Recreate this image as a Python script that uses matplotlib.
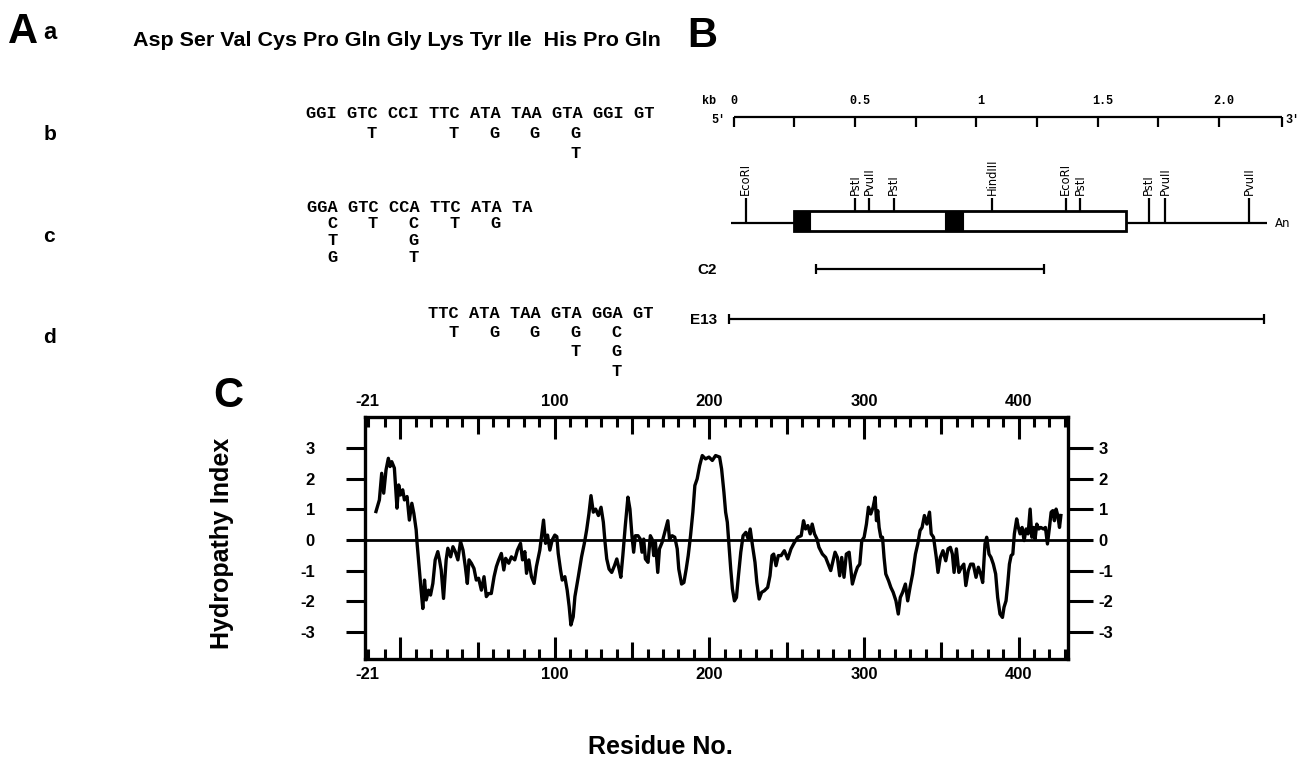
import matplotlib
matplotlib.use("Agg")
import matplotlib.pyplot as plt
from matplotlib import font_manager as fm
from matplotlib.patches import Rectangle

_installed = {f.name for f in fm.fontManager.ttflist}
SANS = "Liberation Sans"
NARROW = "Liberation Sans Narrow" if "Liberation Sans Narrow" in _installed else "Liberation Sans"
IS_NARROW = NARROW.endswith("Narrow")
MONO = "Liberation Mono"

# ---------------- data ----------------
peptide = ["Asp", "Ser", "Val", "Cys", "Pro", "Gln", "Gly", "Lys", "Tyr", "Ile", "His", "Pro", "Gln"]

probe_b = "GGI GTC CCI TTC ATA TAA GTA GGI GT"
probe_b_alt = [(6, 1, "T"), (14, 1, "T"), (18, 1, "G"), (22, 1, "G"), (26, 1, "G"), (26, 2, "T")]
probe_c = "GGA GTC CCA TTC ATA TA"
probe_c_alt = [(2, 1, "C"), (2, 2, "T"), (2, 3, "G"), (6, 1, "T"), (10, 1, "C"), (10, 2, "G"),
               (10, 3, "T"), (14, 1, "T"), (18, 1, "G")]
probe_d = "TTC ATA TAA GTA GGA GT"
probe_d_alt = [(2, 1, "T"), (6, 1, "G"), (10, 1, "G"), (14, 1, "G"), (14, 2, "T"), (18, 1, "C"),
               (18, 2, "G"), (18, 3, "T")]

kb_ticks = [0, 0.25, 0.5, 0.75, 1.0, 1.25, 1.5, 1.75, 2.0, 2.262]
kb_label_pos = [0, 0.5, 1.0, 1.5, 2.0]
kb_labels = ["0", "0.5", "1", "1.5", "2.0"]
map_span = (-0.013, 2.197)
cds_span = (0.248, 1.617)
dark_blocks = [(0.248, 0.316), (0.871, 0.944)]
site_names = ["EcoRI", "PstI", "PvuII", "PstI", "HindIII", "EcoRI", "PstI", "PstI", "PvuII", "PvuII"]
site_kb = [0.050, 0.500, 0.558, 0.659, 1.066, 1.368, 1.428, 1.710, 1.778, 2.124]
clone_names = ["C2", "E13"]
clone_start = [0.339, -0.020]
clone_end = [1.278, 2.187]

residue = [-15.7, -13.5, -12.0, -10.7, -9.2, -7.7, -6.6, -5.5, -3.8, -2.1, -1.0, 0.1, 1.6, 2.7, 4.4,
           5.9, 7.5, 8.8, 10.3, 10.9, 12.0, 13.5, 14.6, 15.7, 16.8, 18.3, 19.6, 21.1, 22.6, 24.3,
           25.4, 26.5, 28.0, 29.7, 30.8, 32.6, 34.1, 35.6, 37.3, 39.0, 40.6, 42.1, 43.4, 44.5, 46.0,
           47.7, 49.2, 50.7, 52.5, 54.2, 55.7, 57.2, 58.9, 60.7, 62.2, 63.7, 65.4, 67.0, 68.2, 70.2,
           71.9, 74.1, 75.8, 77.8, 79.1, 80.6, 81.7, 83.2, 84.9, 86.6, 88.1, 90.3, 91.4, 92.7, 94.0,
           95.3, 96.8, 98.3, 100.0, 101.3, 102.2, 103.7, 104.8, 106.5, 108.0, 109.3, 110.4, 111.9,
           113.0, 115.2, 117.3, 119.1, 120.6, 122.1, 123.4, 124.9, 126.4, 128.2, 129.9, 131.4, 132.5,
           133.6, 135.1, 136.8, 138.6, 140.1, 141.6, 142.7, 144.0, 145.6, 147.3, 148.6, 149.9, 151.0,
           152.1, 153.8, 155.3, 156.4, 157.5, 158.6, 160.3, 161.8, 162.9, 164.0, 165.1, 166.6, 167.7,
           169.4, 171.1, 173.1, 174.2, 175.9, 177.6, 179.2, 180.2, 182.0, 183.5, 185.0, 186.3, 187.8,
           189.3, 190.6, 192.1, 193.7, 195.4, 197.5, 199.7, 201.9, 204.0, 206.6, 207.9, 209.4, 210.5,
           211.6, 212.7, 213.8, 214.9, 216.2, 217.5, 218.8, 220.3, 221.8, 223.6, 225.1, 226.4, 227.9,
           229.5, 230.7, 232.2, 233.8, 235.5, 237.7, 239.2, 240.5, 241.6, 243.1, 244.6, 246.4, 248.5,
           250.7, 252.8, 255.0, 257.2, 259.4, 260.9, 262.2, 263.7, 265.2, 266.5, 268.0, 269.6, 270.9,
           273.1, 275.2, 276.9, 278.5, 280.0, 281.3, 282.8, 284.3, 285.6, 287.1, 288.6, 290.4, 291.4,
           292.5, 294.3, 295.8, 297.3, 298.6, 300.1, 301.6, 302.9, 304.4, 305.9, 307.2, 308.1, 308.9,
           309.8, 310.9, 312.0, 313.0, 314.1, 315.9, 317.4, 318.9, 320.7, 322.2, 323.5, 325.0, 326.8,
           328.3, 329.8, 331.5, 333.3, 334.8, 336.3, 337.6, 339.1, 340.7, 342.4, 343.5, 345.0, 346.8,
           347.9, 349.4, 351.1, 352.9, 354.4, 355.9, 357.2, 358.3, 359.8, 361.4, 363.1, 364.6, 365.9,
           367.5, 369.0, 370.7, 372.5, 374.0, 375.5, 376.8, 378.3, 379.4, 380.9, 382.2, 383.7, 385.2,
           386.5, 388.0, 389.6, 390.6, 391.9, 393.0, 394.1, 395.2, 396.3, 397.3, 398.8, 399.9, 401.0,
           402.3, 403.6, 404.9, 406.2, 407.5, 408.6, 409.7, 410.7, 411.8, 413.1, 414.4, 416.1, 417.4,
           418.7, 420.0, 421.1, 422.2, 423.2, 424.3, 425.4, 426.5, 427.4]
hydropathy = [0.93, 1.31, 2.18, 1.53, 2.29, 2.67, 2.40, 2.56, 2.35, 1.04, 1.80, 1.47, 1.64, 1.31, 1.42,
              0.65, 1.20, 0.87, 0.33, -0.11, -0.76, -1.64, -2.24, -1.31, -1.96, -1.64, -1.80, -1.42,
              -0.65, -0.38, -0.65, -0.98, -1.91, -0.65, -0.27, -0.55, -0.22, -0.38, -0.65, -0.05,
              -0.33, -0.87, -1.42, -0.65, -0.76, -0.93, -1.31, -1.25, -1.64, -1.20, -1.85, -1.75,
              -1.75, -1.20, -0.87, -0.65, -0.44, -0.98, -0.60, -0.76, -0.55, -0.65, -0.33, -0.11,
              -0.65, -0.38, -1.09, -0.65, -1.20, -1.42, -0.87, -0.33, 0.11, 0.65, -0.11, 0.16, -0.33,
              0.00, 0.16, 0.11, -0.44, -0.98, -1.31, -1.20, -1.64, -2.18, -2.78, -2.51, -1.85, -1.20,
              -0.55, -0.11, 0.33, 0.87, 1.45, 0.91, 1.01, 0.80, 1.07, 0.58, -0.08, -0.62, -0.95, -1.06,
              -0.84, -0.62, -0.95, -1.22, -0.51, 0.47, 1.40, 1.01, 0.14, -0.40, 0.14, 0.14, 0.03,
              -0.40, 0.03, -0.62, -0.73, 0.14, 0.03, -0.51, -0.08, -1.06, -0.29, -0.08, 0.25, 0.63,
              0.03, 0.14, 0.09, -0.29, -0.95, -1.44, -1.39, -0.95, -0.51, 0.14, 0.91, 1.78, 2.00, 2.43,
              2.76, 2.65, 2.71, 2.60, 2.76, 2.71, 2.32, 1.56, 0.91, 0.58, -0.19, -0.95, -1.60, -1.99,
              -1.88, -1.17, -0.40, 0.14, 0.25, 0.03, 0.36, -0.19, -0.73, -1.39, -1.93, -1.71, -1.66,
              -1.55, -1.17, -0.51, -0.46, -0.84, -0.51, -0.51, -0.35, -0.62, -0.29, -0.08, 0.09, 0.14,
              0.63, 0.36, 0.47, 0.20, 0.52, 0.20, 0.03, -0.24, -0.46, -0.57, -0.79, -1.00, -0.68,
              -0.40, -0.57, -1.17, -0.57, -1.22, -0.46, -0.40, -0.89, -1.44, -1.11, -0.89, -0.79,
              -0.02, 0.09, 0.52, 1.07, 0.85, 1.07, 1.40, 0.63, 0.96, 0.41, 0.09, 0.09, -0.57, -1.11,
              -1.33, -1.55, -1.71, -1.99, -2.42, -1.88, -1.71, -1.44, -1.99, -1.55, -1.11, -0.46,
              -0.13, 0.31, 0.41, 0.80, 0.52, 0.91, 0.20, 0.09, -0.57, -1.06, -0.57, -0.35, -0.68,
              -0.29, -0.24, -0.46, -1.06, -0.29, -1.06, -0.89, -0.79, -1.49, -1.00, -0.79, -0.79,
              -1.22, -0.89, -1.11, -1.39, -0.13, 0.09, -0.46, -0.57, -0.79, -1.11, -1.88, -2.42,
              -2.53, -2.20, -1.99, -1.44, -0.79, -0.51, -0.46, 0.20, 0.69, 0.41, 0.20, 0.41, -0.02,
              0.36, 0.20, 1.01, 0.09, 0.41, 0.03, 0.52, 0.36, 0.41, 0.36, 0.41, -0.13, 0.41, 0.91,
              0.96, 0.63, 1.01, 0.80, 0.41, 0.80]

x_major = [-21, 100, 200, 300, 400]
x_major_labels = ["-21", "100", "200", "300", "400"]
y_ticks = [3, 2, 1, 0, -1, -2, -3]
y_tick_labels = ["3", "2", "1", "0", "-1", "-2", "-3"]

# ---------------- figure ----------------
W, H = 1300, 759
plt.rcParams["font.family"] = [NARROW, "DejaVu Sans"]
plt.rcParams["font.weight"] = "bold"
fig = plt.figure(figsize=(W / 100, H / 100), dpi=100)
fig.patch.set_facecolor("white")

ov = fig.add_axes([0, 0, 1, 1])
ov.set_xlim(0, W)
ov.set_ylim(H, 0)
ov.axis("off")


def txt(x, y, s, size, family=SANS, weight="bold", **kw):
    kw.setdefault("va", "baseline")
    return ov.text(x, y, s, fontsize=size, family=[family, "DejaVu Sans"], fontweight=weight, **kw)


# panel letters
txt(8, 43, "A", 30)
txt(687, 47, "B", 30)
txt(213, 407, "C", 30)

# panel A
txt(50, 39, "a", 17, ha="center")
txt(50, 140, "b", 15, ha="center")
txt(49, 242, "c", 15, ha="center")
txt(49, 343, "d", 15, ha="center")

pep_text = " ".join(peptide[:10]) + "  " + " ".join(peptide[10:])
pep = txt(133, 46, pep_text, 18 if IS_NARROW else 15, family=NARROW, ha="left")
fig.canvas.draw()
_w = pep.get_window_extent(fig.canvas.get_renderer()).width
pep.set_fontsize(pep.get_fontsize() * 527.0 / _w)

PITCH = 10.17
MONO_FS = PITCH / 0.6 * 72 / 100


def probe(x0, base, seq, alts, step):
    txt(x0, base, seq, MONO_FS, family=MONO, ha="left")
    for idx, row, ch in alts:
        txt(x0 + (idx + 0.5) * PITCH, base + row * step, ch, MONO_FS, family=MONO, ha="center")


probe(306, 118.5, probe_b, probe_b_alt, 19.6)
probe(307, 211.5, probe_c, probe_c_alt, 16.8)
probe(306 + 12 * PITCH, 317.5, probe_d, probe_d_alt, 19.4)

# ---------------- panel B ----------------
BX0, BX1, BH = 697, 1300, 340
KB0, PXKB = 733.7, 242.6
axB = fig.add_axes([BX0 / W, 1 - BH / H, (BX1 - BX0) / W, BH / H])
axB.set_xlim((BX0 - KB0) / PXKB, (BX1 - KB0) / PXKB)
axB.set_ylim(BH, 0)
axB.axis("off")

Y_RULER, Y_MAP, BOX_T, BOX_B, SITE_T = 116.7, 222.7, 210.7, 230.7, 197.7
LW_B = 1.6
axB.plot([kb_ticks[0], kb_ticks[-1]], [Y_RULER, Y_RULER], color="black", lw=LW_B, solid_capstyle="butt")
axB.vlines(kb_ticks, Y_RULER, Y_RULER + 10, color="black", lw=LW_B)
for v, lab in zip(kb_label_pos, kb_labels):
    axB.text(v + (0.0 if v == 0 else 0.02), 104, lab, ha="center", va="baseline",
             family=[MONO], fontweight="bold", fontsize=8.5)
axB.text((702 - KB0) / PXKB, 104, "kb", ha="left", va="baseline", family=[MONO], fontweight="bold", fontsize=8.5)
axB.text((711 - KB0) / PXKB, 123, "5'", ha="left", va="baseline", family=[MONO], fontweight="bold", fontsize=8.5)
axB.text((1285 - KB0) / PXKB, 123, "3'", ha="left", va="baseline", family=[MONO], fontweight="bold", fontsize=8.5)

axB.plot(list(map_span), [Y_MAP, Y_MAP], color="black", lw=LW_B, solid_capstyle="butt", zorder=1)
axB.add_patch(Rectangle((cds_span[0], BOX_T), cds_span[1] - cds_span[0], BOX_B - BOX_T,
                        facecolor="white", edgecolor="black", lw=LW_B + 0.4, zorder=2))
for a, b in dark_blocks:
    axB.add_patch(Rectangle((a, BOX_T), b - a, BOX_B - BOX_T, facecolor="black", edgecolor="black",
                            lw=0.8, zorder=3))
for name, pos in zip(site_names, site_kb):
    bottom = BOX_T if cds_span[0] <= pos <= cds_span[1] else Y_MAP
    axB.vlines(pos, SITE_T, bottom, color="black", lw=LW_B, zorder=2)
    axB.text(pos, SITE_T - 2.5, name, rotation=90, ha="center", va="bottom",
             family=["DejaVu Sans"], fontweight="normal", fontsize=8.3)
axB.text(map_span[1] + 0.035, Y_MAP + 4.5, "An", ha="left", va="baseline",
         family=["DejaVu Sans"], fontweight="normal", fontsize=8.5)

clone_y = [269.3, 319.3]
for name, a, b, y in zip(clone_names, clone_start, clone_end, clone_y):
    axB.plot([a, b], [y, y], color="black", lw=LW_B, solid_capstyle="butt")
    axB.vlines([a, b], y - 5, y + 5, color="black", lw=LW_B)
    axB.text(-0.068, y + 5, name, ha="right", va="baseline", family=[SANS], fontweight="bold", fontsize=11)

# ---------------- panel C ----------------
AX_L, AX_R, AX_T, AX_B = 365, 1068, 417, 659
ax = fig.add_axes([AX_L / W, 1 - AX_B / H, (AX_R - AX_L) / W, (AX_B - AX_T) / H])
ax.plot(residue, hydropathy, color="black", lw=2.4, solid_joinstyle="round")
ax.axhline(0, color="black", lw=2.0)
ax.set_xlim(-22.8, 432)
ax.set_ylim(-3.89, 4.02)
for sp in ax.spines.values():
    sp.set_linewidth(2.4)

TICK_FS = 14 if IS_NARROW else 12
x_all = [-21] + list(range(-10, 431, 10))
x_lab = [x_major_labels[x_major.index(v)] if v in x_major else "" for v in x_all]
ax.set_xticks(x_all, labels=x_lab)
ax.tick_params(axis="x", which="major", direction="in", top=True, bottom=True, labeltop=True,
               labelbottom=True, width=2.2, length=8, pad=6, labelsize=TICK_FS)
for v, tk in zip(x_all, ax.xaxis.get_major_ticks()):
    L = 16 if v % 100 == 0 else (12 if v % 50 == 0 else 7.5)
    tk.tick1line.set_markersize(L)
    tk.tick2line.set_markersize(L)

ax.set_yticks(y_ticks, labels=y_tick_labels)
ax.tick_params(axis="y", direction="out", left=True, right=False, length=14, width=2.2, pad=22,
               labelsize=TICK_FS)
axr = ax.twinx()
axr.set_ylim(ax.get_ylim())
axr.set_yticks(y_ticks, labels=y_tick_labels)
axr.tick_params(axis="y", direction="out", length=18, width=2.2, pad=4, labelsize=TICK_FS)
for sp in axr.spines.values():
    sp.set_visible(False)
for lab in ax.get_xticklabels() + ax.get_yticklabels() + axr.get_yticklabels():
    lab.set_fontweight("bold")

txt(222, 543, "Hydropathy Index", 18, rotation=90, ha="center", va="center")
txt(660, 747, "Residue No.", 18, ha="center", va="center")

fig.savefig("out.png", dpi=100, facecolor="white")
